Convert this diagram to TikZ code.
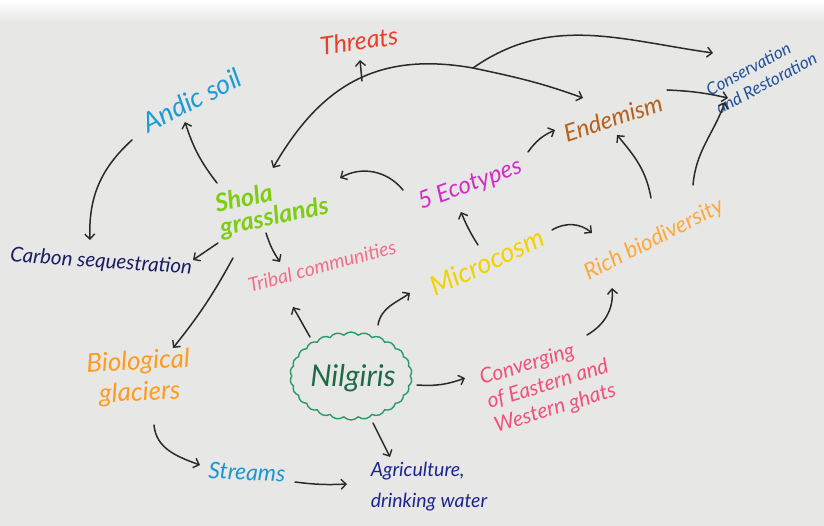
\documentclass[tikz,border=0pt]{standalone}
\usepackage{fontspec}
\setmainfont{Lato}
\usetikzlibrary{arrows.meta,shapes.symbols}
\definecolor{bgc}{HTML}{E7E8E6}
\definecolor{arrowc}{HTML}{2A2A2A}
\definecolor{cthreat}{HTML}{E8402A}
\definecolor{candic}{HTML}{1B9BD8}
\definecolor{ccons}{HTML}{1F4F9C}
\definecolor{cend}{HTML}{B8601A}
\definecolor{ceco}{HTML}{D42AC8}
\definecolor{cshola}{HTML}{7FCC14}
\definecolor{ccarb}{HTML}{1C1C66}
\definecolor{ctribal}{HTML}{F0708A}
\definecolor{cmicro}{HTML}{F2D200}
\definecolor{crich}{HTML}{FFA83A}
\definecolor{cbio}{HTML}{FF9B1E}
\definecolor{cnil}{HTML}{1D6B46}
\definecolor{ccloud}{HTML}{2A9A66}
\definecolor{cconv}{HTML}{F0507A}
\definecolor{cstream}{HTML}{1F95D0}
\definecolor{cagri}{HTML}{1C2490}
\newcommand\hw[2]{\fontsize{#1}{#2}\selectfont\itshape}
\tikzset{
  lbl/.style={inner sep=1pt},
  conn/.style={draw=arrowc, line width=1.5pt, line cap=round,
    -{Straight Barb[length=5pt,width=10pt,line width=1.4pt]}},
}
\begin{document}
\begin{tikzpicture}[x=1pt,y=1pt]
\useasboundingbox (0,0) rectangle (824,-526);
\clip (0,0) rectangle (824,-526);
\fill[bgc] (0,0) rectangle (824,-526);
\shade[top color=white,bottom color=bgc] (0,0) rectangle (824,-22);

% nodes
\node[lbl,text=cthreat,rotate=8,font=\hw{25}{27}] (threats) at (359,-41) {Threats};
\node[lbl,text=candic,rotate=27,font=\hw{27}{29}] (andic) at (192,-100) {Andic soil};
\node[lbl,text=ccons,rotate=28,anchor=west,align=left,inner sep=0pt,font=\hw{17}{21}] (cons) at (712,-100) {Conservation\\and Restoration};
\node[lbl,text=cend,rotate=18,font=\hw{24}{26}] (endem) at (613,-118) {Endemism};
\node[lbl,text=ceco,rotate=20,font=\hw{24}{26}] (eco) at (470,-185) {5 Ecotypes};
\node[lbl,text=cshola,rotate=12,align=left,font=\hw{25}{24}\bfseries] (shola) at (272,-206) {Shola\\grasslands};
\node[lbl,text=ccarb,rotate=-4,font=\hw{20.5}{22}] (carbon) at (101,-262) {Carbon sequestration};
\node[lbl,text=ctribal,rotate=15,font=\hw{19.5}{21}] (tribal) at (322,-266) {Tribal communities};
\node[lbl,text=cmicro,rotate=25,font=\hw{27}{29}] (micro) at (487,-262) {Microcosm};
\node[lbl,text=crich,rotate=27,font=\hw{22.5}{24}] (rich) at (654,-240) {Rich biodiversity};
\node[lbl,text=cbio,rotate=3,align=center,font=\hw{26}{31}] (bio) at (139,-378) {Biological\\glaciers};
\node[draw=ccloud,line width=1.4pt,cloud,cloud puffs=26,cloud puff arc=95,cloud ignores aspect,
      minimum width=122,minimum height=88,inner sep=0pt] (nilc) at (351,-376) {};
\node[lbl,text=cnil,font=\hw{30}{32}] (nil) at (353,-378) {Nilgiris};
\node[lbl,text=cconv,rotate=17,align=left,font=\hw{21}{25}] (conv) at (548,-385) {Converging\\of Eastern and\\Western ghats};
\node[lbl,text=cstream,rotate=-3,font=\hw{23}{25}] (streams) at (247,-472) {Streams};
\node[lbl,text=cagri,align=left,font=\hw{19.5}{31}] (agri) at (429,-487) {Agriculture,\\drinking water};

% connectors
\draw[conn] ([shift={(-55,23)}]shola.center) to[bend left=10] ([shift={(-7,-22)}]andic.center);
\draw[conn] ([shift={(-60,-40)}]andic.center) to[bend right=25] ([shift={(-11,22)}]carbon.center);
\draw[conn] ([shift={(-54,-37)}]shola.center) -- ([shift={(92,2)}]carbon.center);
\draw[conn] ([shift={(-6,-27)}]shola.center) to[bend right=8] ([shift={(-42,4)}]tribal.center);
\draw[conn] ([shift={(-39,-52)}]shola.center) to[bend left=5] ([shift={(34,30)}]bio.center);
\draw[conn] ([shift={(15,-47)}]bio.center) to[out=-85,in=160] ([shift={(-47,7)}]streams.center);
\draw[conn] ([shift={(48,-10)}]streams.center) to[bend right=5] ([shift={(-82,3)}]agri.center);
\draw[conn] ([shift={(22,-47)}]nilc.center) -- ([shift={(-39,30)}]agri.center);
\draw[conn] ([shift={(66,-9)}]nilc.center) to[bend right=12] ([shift={(-83,7)}]conv.center);
\draw[conn] ([shift={(-41,39)}]nilc.center) -- ([shift={(-29,-41)}]tribal.center);
\draw[conn] ([shift={(27,51)}]nilc.center) to[out=80,in=-145] ([shift={(-77,-31)}]micro.center);
\draw[conn] ([shift={(-9,17)}]micro.center) to[bend left=5] ([shift={(-9,-27)}]eco.center);
\draw[conn] ([shift={(65,32)}]micro.center) to[bend left=35] ([shift={(-62,7)}]rich.center);
\draw[conn] ([shift={(39,50)}]conv.center) to[out=30,in=-85] ([shift={(-42,-48)}]rich.center);
\draw[conn] ([shift={(-3,42)}]rich.center) to[out=100,in=-50] ([shift={(4,-17)}]endem.center);
\draw[conn] ([shift={(39,55)}]rich.center) to[out=85,in=-110] ([shift={(13,-2)}]cons.west);
\draw[conn] ([shift={(54,28)}]endem.center) to[bend left=5] ([shift={(16,2)}]cons.west);
\draw[conn] ([shift={(58,33)}]eco.center) to[bend left=15] ([shift={(-58,-12)}]endem.center);
\draw[conn] ([shift={(-67,-5)}]eco.center) to[bend right=40] ([shift={(68,28)}]shola.center);

\coordinate (hub) at (473,-68);
\coordinate (tb) at (362,-81);
\draw[conn] (hub) to[out=170,in=60,looseness=1.1] ([shift={(1,38)}]shola.center);
\draw[conn] (hub) to[out=-12,in=160] ([shift={(-30,20)}]endem.center);
\draw[conn] (hub) to[out=35,in=172] ([shift={(1,47)}]cons.west);
\draw[conn] (tb) -- ([shift={(1,-19)}]threats.center);
\end{tikzpicture}
\end{document}
